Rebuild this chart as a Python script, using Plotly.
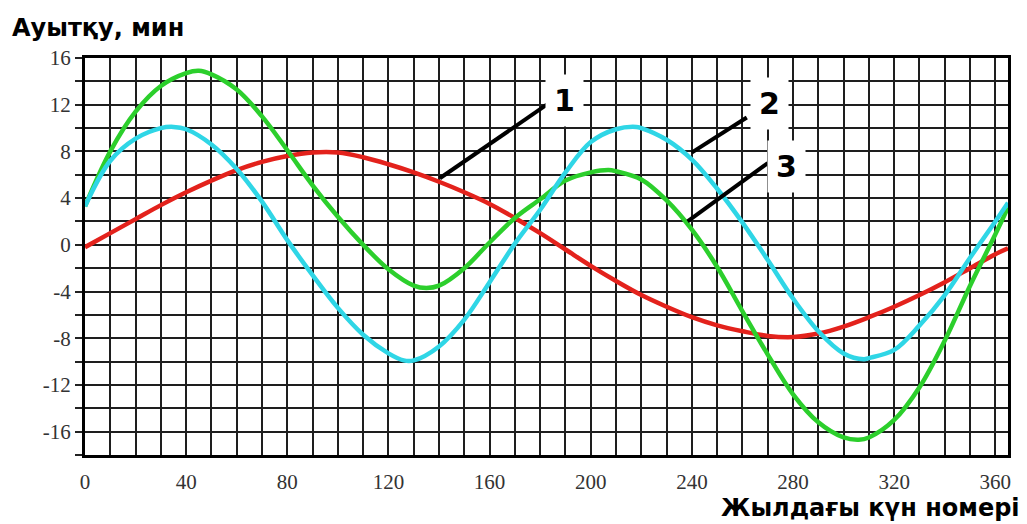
import plotly.graph_objects as go

# ---- data ----
red_days = [0, 10, 20, 30, 40, 50, 60, 70, 80, 90, 100, 110, 120, 130, 140, 150, 160, 170, 180,
            190, 200, 210, 220, 230, 240, 250, 260, 270, 280, 290, 300, 310, 320, 330, 340, 350, 360, 365]
red_vals = [-0.2, 1.0, 2.2, 3.4, 4.5, 5.5, 6.4, 7.1, 7.6, 7.9, 7.9, 7.5, 6.9, 6.2, 5.4, 4.5, 3.5, 2.3, 1.0,
            -0.4, -1.8, -3.1, -4.3, -5.3, -6.2, -6.9, -7.4, -7.8, -7.9, -7.6, -7.0, -6.2, -5.3, -4.3, -3.2, -2.0, -0.8, -0.3]

cyan_days = [0, 10, 20, 30, 35, 40, 50, 60, 70, 80, 90, 100, 110, 120, 126, 130, 140, 150, 160, 170, 180,
             190, 200, 210, 218, 220, 230, 240, 250, 260, 270, 280, 290, 300, 308, 310, 320, 330, 340, 350, 360, 365]
cyan_vals = [3.3, 7.2, 9.1, 10.0, 10.1, 9.9, 8.6, 6.5, 3.7, 0.4, -2.6, -5.4, -7.7, -9.3, -9.9, -9.9, -8.7, -6.4, -3.2, 0.1, 3.0,
             6.2, 8.8, 9.9, 10.1, 10.0, 9.0, 7.3, 4.8, 1.9, -1.3, -4.6, -7.4, -9.3, -9.8, -9.7, -9.0, -6.9, -4.3, -1.1, 2.0, 3.6]

green_days = [0, 10, 20, 30, 40, 45, 50, 60, 70, 80, 90, 100, 110, 120, 130, 135, 140, 150, 160, 170, 180,
              190, 200, 207, 210, 220, 230, 240, 250, 260, 270, 280, 290, 300, 306, 310, 320, 330, 340, 350, 360, 365]
green_vals = [3.3, 8.0, 11.4, 13.6, 14.7, 14.9, 14.6, 13.3, 11.0, 8.1, 5.1, 2.4, 0.0, -2.1, -3.5, -3.7, -3.5, -2.0, 0.2, 2.3, 3.9,
              5.5, 6.2, 6.4, 6.3, 5.6, 3.8, 1.3, -1.9, -5.7, -9.4, -12.8, -15.2, -16.5, -16.7, -16.5, -15.0, -12.2, -8.2, -3.5, 0.9, 3.2]

x_ticks = [0, 40, 80, 120, 160, 200, 240, 280, 320, 360]
y_ticks = [-16, -12, -8, -4, 0, 4, 8, 12, 16]

labels = ["1", "2", "3"]
label_x = [189.7, 270.8, 277.5]
label_y = [12.4, 12.1, 6.7]
leader_x0 = [182.6, 261.7, 270.0]
leader_y0 = [12.0, 10.9, 7.0]
leader_x1 = [140.3, 239.9, 238.3]
leader_y1 = [5.7, 7.9, 2.0]

y_title = "Ауытқу, мин"
x_title = "Жылдағы күн номері"

# ---- figure ----
W, H = 1027, 524
ML, MR, MT, MB = 85, 19, 58, 69
pw, ph = W - ML - MR, H - MT - MB

fig = go.Figure()
fig.add_trace(go.Scatter(x=red_days, y=red_vals, mode="lines", line=dict(color="#e3221c", width=4.5, shape="spline"),
                         showlegend=False, hoverinfo="skip"))
fig.add_trace(go.Scatter(x=green_days, y=green_vals, mode="lines", line=dict(color="#2ccf2c", width=4.5, shape="spline"),
                         showlegend=False, hoverinfo="skip"))
fig.add_trace(go.Scatter(x=cyan_days, y=cyan_vals, mode="lines", line=dict(color="#2fd6e6", width=4.5, shape="spline"),
                         showlegend=False, hoverinfo="skip"))

for i in range(len(labels)):
    fig.add_shape(type="line", xref="x", yref="y", x0=leader_x0[i], y0=leader_y0[i], x1=leader_x1[i], y1=leader_y1[i],
                  line=dict(color="black", width=4), layer="above")
    fig.add_annotation(x=label_x[i], y=label_y[i], xref="x", yref="y", text="<b>%s</b>" % labels[i], showarrow=False,
                       font=dict(family="DejaVu Sans", size=30, color="black"), bgcolor="white", borderpad=8)

grid_col = "#1e1e1e"
fig.update_xaxes(range=[0, 365], tickmode="array", tickvals=x_ticks, ticktext=[str(v) for v in x_ticks],
                 showgrid=True, gridcolor=grid_col, gridwidth=2,
                 minor=dict(dtick=10, tick0=0, showgrid=True, gridcolor=grid_col, gridwidth=2),
                 showline=True, linecolor="black", linewidth=3, mirror=True, zeroline=False,
                 ticks="", ticklabelstandoff=6,
                 tickfont=dict(family="Liberation Serif", size=21, color="#333333"))
fig.update_yaxes(range=[-18, 16], tickmode="array", tickvals=y_ticks, ticktext=[str(v) for v in y_ticks],
                 showgrid=True, gridcolor=grid_col, gridwidth=2,
                 minor=dict(dtick=2, tick0=0, showgrid=True, gridcolor=grid_col, gridwidth=2,
                            ticks="outside", ticklen=7, tickcolor="#222", tickwidth=2),
                 showline=True, linecolor="black", linewidth=3, mirror=True, zeroline=False,
                 ticks="outside", ticklen=7, tickcolor="#222", tickwidth=2,
                 tickfont=dict(family="Liberation Serif", size=21, color="#333333"))

fig.add_annotation(x=(10 - ML) / pw, y=(H - MB - 28) / ph, xref="paper", yref="paper",
                   text="<b>%s</b>" % y_title, showarrow=False,
                   font=dict(family="DejaVu Sans", size=24, color="black"), xanchor="left", yanchor="middle")
fig.add_annotation(x=(1022 - ML) / pw, y=(H - MB - 508) / ph, xref="paper", yref="paper",
                   text="<b>%s</b>" % x_title, showarrow=False,
                   font=dict(family="DejaVu Sans", size=24, color="black"), xanchor="right", yanchor="middle")

fig.update_layout(width=W, height=H, margin=dict(l=ML, r=MR, t=MT, b=MB),
                  plot_bgcolor="white", paper_bgcolor="white", showlegend=False)

fig.write_html("out.html", config={"displayModeBar": False},
               post_script="document.body.style.margin='0';document.body.style.overflow='hidden';")
